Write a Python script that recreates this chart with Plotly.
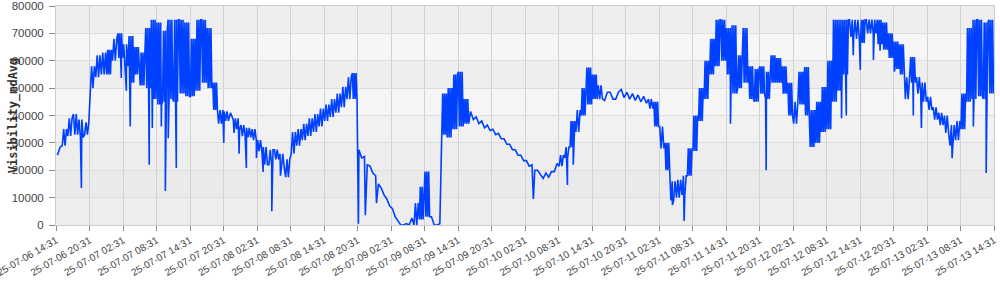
import pandas as pd
import plotly.graph_objects as go

START = "2025-07-06 14:31"
END = "2025-07-13 14:31"

# hourly envelope of the dense visibility trace (low / high within each hour)
hour_lo = [
    25500, 29000, 32500, 33000, 32000, 33000, 50000, 54000, 55000, 55000,
    60000, 61000, 58000, 52000, 55000, 51000, 50000, 46000, 44000, 45000,
    46000, 45000, 48000, 47000, 47000, 49000, 52000, 50000, 42000, 37000,
    38000, 38500, 35000, 32500, 32000, 31000, 27000, 22000, 22000, 24000,
    21000, 17500, 26000, 29000, 31000, 32500, 34000, 36000, 38000, 39500,
    41000, 43000, 46000, 46000, 24500, 22000, 19000, 15000, 11000, 7000,
    3000, 0, 0, 0, 0, 2000, 3000, 0, 0, 33000,
    32000, 35000, 36000, 37000, 38500, 37000, 35500, 34500, 33000, 31500,
    29500, 27500, 25500, 23500, 21500, 20000, 18500, 17000, 17500, 19500,
    21500, 24500, 28500, 34000, 40000, 44000, 46000, 46000, 45500, 46000,
    46000, 46500, 46000, 45500, 45000, 44500, 42500, 36000, 28000, 20000,
    9000, 10000, 11000, 18000, 27000, 38000, 46000, 55000, 58000, 60000,
    55000, 48000, 50000, 52000, 46000, 45000, 48000, 46000, 52000, 52000,
    48000, 40000, 37000, 44000, 40000, 28500, 30000, 34000, 35000, 45000,
    49000, 55000, 68700, 68000, 66500, 70000, 70000, 66000, 64000, 61000,
    57000, 55000, 46000, 52000, 48000, 45000, 42000, 38500, 36500, 33600,
    29000, 31000, 35000, 45000, 46000, 47000, 46000, 48000,
]
hour_hi = [
    28500, 35000, 39000, 40500, 38500, 37500, 58000, 62000, 63000, 64000,
    68000, 70000, 66000, 69000, 65000, 63000, 72000, 75000, 74000, 71000,
    75000, 75000, 75000, 74000, 68000, 75000, 75000, 72000, 52000, 42000,
    41500, 41000, 39000, 36500, 35500, 35000, 31000, 28500, 27500, 27500,
    26000, 24000, 34000, 35000, 37000, 39000, 40500, 42500, 44000, 46000,
    48000, 50500, 54000, 55500, 27500, 25000, 21500, 18000, 13500, 9500,
    6000, 1500, 500, 2500, 8000, 14000, 19500, 3000, 500, 48000,
    50000, 55000, 56000, 46000, 41500, 39500, 38000, 36500, 35000, 33500,
    31500, 29500, 27500, 25500, 23500, 22000, 20000, 19000, 19500, 22500,
    25500, 28500, 38000, 42000, 50000, 57500, 55000, 51000, 48500, 48500,
    48500, 49500, 48500, 48000, 47500, 47000, 46000, 45000, 36000, 30000,
    16000, 16500, 18000, 28000, 40000, 50000, 60000, 68000, 75000, 75000,
    72000, 73000, 62000, 72000, 58000, 57000, 58000, 56000, 62000, 61000,
    58000, 52000, 45000, 56000, 57700, 42000, 45000, 50400, 60000, 75000,
    75000, 75000, 75000, 75000, 75000, 75000, 75000, 75000, 74000, 70000,
    67000, 66000, 54000, 61400, 54000, 52000, 46800, 43000, 41000, 40000,
    36500, 38000, 48000, 72000, 75000, 75000, 74000, 75000,
]

# isolated downward spikes
spike_times = [
    "2025-07-06 19:04", "2025-07-07 02:13", "2025-07-07 03:07", "2025-07-07 03:49",
    "2025-07-07 07:13", "2025-07-07 07:46", "2025-07-07 09:23", "2025-07-07 10:06",
    "2025-07-07 10:37", "2025-07-07 12:04", "2025-07-07 20:34", "2025-07-07 22:25",
    "2025-07-07 23:19", "2025-07-08 00:37", "2025-07-08 02:25", "2025-07-08 03:37",
    "2025-07-08 05:10", "2025-07-08 06:43", "2025-07-08 20:41", "2025-07-08 21:55",
    "2025-07-08 23:55", "2025-07-10 04:01", "2025-07-10 10:07", "2025-07-10 11:10",
    "2025-07-11 04:55", "2025-07-11 07:01", "2025-07-11 15:19", "2025-07-11 21:43",
    "2025-07-12 11:13", "2025-07-12 12:04", "2025-07-12 13:19", "2025-07-12 14:34",
    "2025-07-12 16:55", "2025-07-12 18:07", "2025-07-12 20:40", "2025-07-13 00:04",
    "2025-07-13 01:31", "2025-07-13 07:01", "2025-07-13 10:49", "2025-07-13 13:07",
]
spike_values = [
    13500, 53700, 49000, 36000,
    22000, 35400, 36000, 12400,
    31700, 20800, 30000, 33600,
    26000, 20800, 24500, 19400,
    5000, 18000, 500, 3600,
    8000, 9500, 14600, 22000,
    7300, 1500, 37000, 20000,
    39000, 40000, 62000, 56600,
    60300, 63700, 56000, 40000,
    35400, 24400, 36000, 19000,
]

y_ticks = [0, 10000, 20000, 30000, 40000, 50000, 60000, 70000, 80000]
band_colors = ["#ededed", "#eaeaea", "#ededed", "#f1f1f1",
               "#f5f5f5", "#eeeeee", "#f6f6f6", "#eeeeee"]

hours = pd.date_range(START, periods=len(hour_lo), freq="h")
mids = [(a + b) / 2 for a, b in zip(hour_lo, hour_hi)]
pts = []
for i, (h, lo, hi) in enumerate(zip(hours, hour_lo, hour_hi)):
    nxt = mids[i + 1] if i + 1 < len(mids) else mids[i]
    pair = [lo, hi] if nxt > mids[i] else [hi, lo]
    gap = hi - lo
    reps = 1 if gap <= 3000 else (2 if gap <= 8000 else 3)
    seq = pair * reps
    step = 60.0 / len(seq)
    for k, v in enumerate(seq):
        pts.append((h + pd.Timedelta(minutes=step * (k + 0.5)), v))
for t, v in zip(spike_times, spike_values):
    pts.append((pd.Timestamp(t), v))
pts.sort(key=lambda p: p[0])
xs = [p[0] for p in pts]
ys = [p[1] for p in pts]

x_ticks = pd.date_range(START, END, freq="6h")

fig = go.Figure()
fig.add_trace(go.Scatter(
    x=xs, y=ys, mode="lines",
    line=dict(color="#0040ff", width=1.6),
    hoverinfo="skip", showlegend=False,
))

shapes = []
for lo_v, hi_v, c in zip(y_ticks[:-1], y_ticks[1:], band_colors):
    shapes.append(dict(type="rect", xref="paper", yref="y", x0=0, x1=1,
                       y0=lo_v, y1=hi_v,
                       fillcolor=c, line=dict(width=0), layer="below"))

fig.update_layout(
    width=1000, height=290,
    margin=dict(l=56, r=6, t=6, b=65),
    paper_bgcolor="white", plot_bgcolor="#eeeeee",
    shapes=shapes,
    font=dict(family="Liberation Sans, Arial, sans-serif", color="#444"),
    xaxis=dict(
        type="date", range=[START, END],
        tickmode="array", tickvals=list(x_ticks),
        ticktext=[t.strftime("%y-%m-%d %H:%M") for t in x_ticks],
        tickangle=-30, ticklabeloverflow="allow",
        showgrid=True, gridcolor="#d2d2d2", gridwidth=1,
        ticks="outside", ticklen=5, tickcolor="#888",
        showline=True, linecolor="#cccccc", mirror=True,
        tickfont=dict(size=10, color="#444"), automargin=False,
    ),
    yaxis=dict(
        range=[0, 80000], tickmode="array", tickvals=y_ticks,
        ticktext=[str(v) for v in y_ticks], ticklabeloverflow="allow",
        ticklabelstandoff=3,
        showgrid=True, gridcolor="#dddddd", gridwidth=1, zeroline=False,
        ticks="outside", ticklen=6, tickcolor="#888",
        showline=True, linecolor="#cccccc", mirror=True,
        tickfont=dict(size=11.5, color="#444"), automargin=False,
    ),
    annotations=[dict(
        text="<b>Visibility_mdAvg</b>", xref="paper", yref="paper",
        x=-0.045, y=0.5, xanchor="center", yanchor="middle",
        textangle=-90, showarrow=False,
        font=dict(family="DejaVu Sans Mono", size=12, color="#333"),
    )],
)

fig.write_html("out.html")
